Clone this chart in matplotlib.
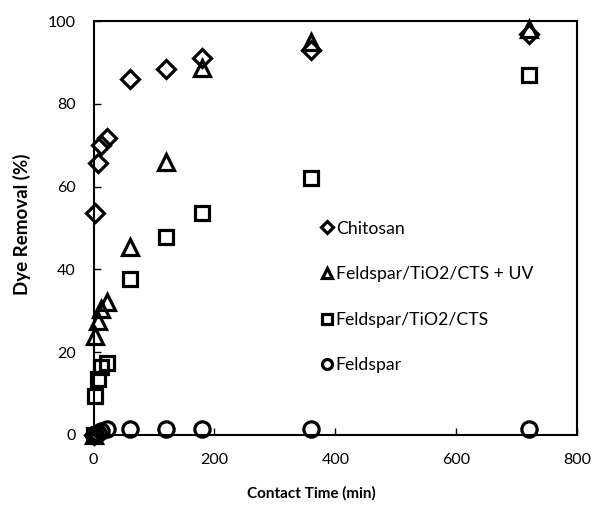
import matplotlib
matplotlib.use("Agg")
import matplotlib.pyplot as plt

plt.rcParams['font.family'] = ['Lato', 'DejaVu Sans']

# contact time (min) for each series
t_chitosan = [0, 3, 7, 12, 22, 60, 120, 180, 360, 720]
v_chitosan = [0, 53.6, 65.8, 70, 71.8, 86, 88.5, 91, 93, 97]

t_uv = [0, 3, 7, 12, 22, 60, 120, 180, 360, 720]
v_uv = [0, 23.8, 27.5, 30.5, 32, 45.3, 66, 88.7, 95, 98]

t_comp = [0, 3, 7, 12, 22, 60, 120, 180, 360, 720]
v_comp = [0, 9.5, 13.5, 16.5, 17.3, 37.7, 47.8, 53.6, 62, 87]

t_feld = [0, 3, 7, 12, 22, 60, 120, 180, 360, 720]
v_feld = [0, 0.2, 0.5, 0.9, 1.4, 1.5, 1.5, 1.5, 1.5, 1.5]

labels = ['Chitosan', 'Feldspar/TiO2/CTS + UV', 'Feldspar/TiO2/CTS', 'Feldspar']

fig = plt.figure(figsize=(5.92, 5.05), dpi=100)
ax = fig.add_axes([0.158, 0.139, 0.817, 0.819])

style = dict(linestyle='none', markerfacecolor='none', markeredgecolor='black',
             markeredgewidth=2.3, clip_on=False)
ax.plot(t_chitosan, v_chitosan, marker='D', markersize=9.5, label=labels[0], **style)
ax.plot(t_uv, v_uv, marker='^', markersize=12, label=labels[1], **style)
ax.plot(t_comp, v_comp, marker='s', markersize=10.5, label=labels[2], **style)
ax.plot(t_feld, v_feld, marker='o', markersize=11, label=labels[3], **style)

ax.set_xlim(0, 800)
ax.set_ylim(0, 100)
ax.set_xticks([0, 200, 400, 600, 800])
ax.set_yticks([0, 20, 40, 60, 80, 100])
ax.tick_params(direction='in', length=5, width=1, labelsize=11.5, pad=13)
for s in ax.spines.values():
    s.set_linewidth(1.5)

ax.set_xlabel('Contact Time (min)', fontsize=11, fontweight='bold')
ax.xaxis.set_label_coords(0.45, -0.125)
ax.set_ylabel('Dye Removal (%)', fontsize=13.5, fontweight='bold')
ax.yaxis.set_label_coords(-0.13, 0.51)

ax.legend(loc='upper left', bbox_to_anchor=(0.455, 0.535), frameon=False,
          fontsize=12.7, markerscale=0.65, handlelength=0.7, handletextpad=0.15,
          labelspacing=1.68, borderaxespad=0)

fig.savefig('out.png', dpi=100)
